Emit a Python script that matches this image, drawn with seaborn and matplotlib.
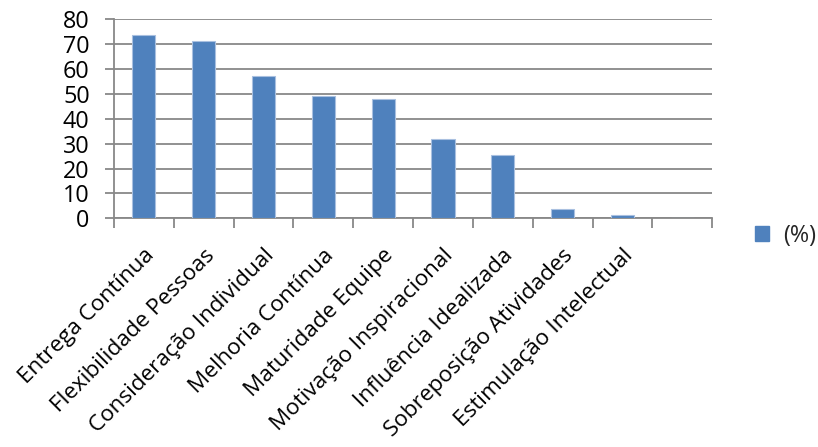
import matplotlib
matplotlib.use("Agg")
import matplotlib.pyplot as plt
from matplotlib.patches import Patch
import seaborn as sns

categories = [
    "Entrega Contínua",
    "Flexibilidade Pessoas",
    "Consideração Individual",
    "Melhoria Contínua",
    "Maturidade Equipe",
    "Motivação Inspiracional",
    "Influência Idealizada",
    "Sobreposição Atividades",
    "Estimulação Intelectual",
    "",
]
values = [73.6, 71.3, 57.1, 49.0, 47.9, 31.7, 25.3, 3.9, 1.4, 0]
series_name = "(%)"
y_ticks = [0, 10, 20, 30, 40, 50, 60, 70, 80]

sns.set_theme(style="white")
plt.rcParams["font.family"] = ["Open Sans", "DejaVu Sans"]

bar_color = "#4F81BD"
grid_color = "#888888"
font_size = 16.8
label_size = 16.2

fig = plt.figure(figsize=(8.18, 4.47), dpi=100)
ax = fig.add_axes([0.1394, 0.5116, 0.8706 - 0.1394, 0.9568 - 0.5116])

sns.barplot(x=categories, y=values, order=categories, color=bar_color,
            width=0.385, saturation=1, edgecolor="#A9C0E0", linewidth=0.8,
            ax=ax, zorder=3)

ax.set_xlim(-0.5, len(categories) - 0.5)
ax.set_ylim(0, 80)
ax.set_yticks(y_ticks)
ax.set_yticklabels([str(t) for t in y_ticks], fontsize=font_size, color="black")
ax.yaxis.grid(True, color=grid_color, linewidth=1.3)
ax.set_axisbelow(True)

# Category boundary ticks below the axis
ax.set_xticks([i - 0.5 for i in range(len(categories) + 1)], minor=True)
ax.set_xticks(range(len(categories)))
ax.set_xticklabels(categories, rotation=45, ha="right", rotation_mode="anchor",
                   fontsize=label_size, color="black")
ax.tick_params(axis="x", which="major", length=0, pad=19)
ax.tick_params(axis="x", which="minor", bottom=True, length=7, width=1.3,
               color=grid_color, direction="out")
ax.tick_params(axis="y", left=True, length=6.5, width=1.3, color=grid_color,
               direction="out", pad=11)

for side in ["top", "right"]:
    ax.spines[side].set_visible(False)
for side in ["left", "bottom"]:
    ax.spines[side].set_color(grid_color)
    ax.spines[side].set_linewidth(1.3)

ax.set_xlabel("")
ax.set_ylabel("")

handle = Patch(facecolor=bar_color, edgecolor=bar_color, label=series_name)
fig.legend(handles=[handle], loc="center left", bbox_to_anchor=(0.923, 0.472),
           frameon=False, fontsize=font_size, handlelength=0.6, handleheight=0.6,
           handletextpad=0.6, borderaxespad=0, borderpad=0)

fig.savefig("out.png", dpi=100)
